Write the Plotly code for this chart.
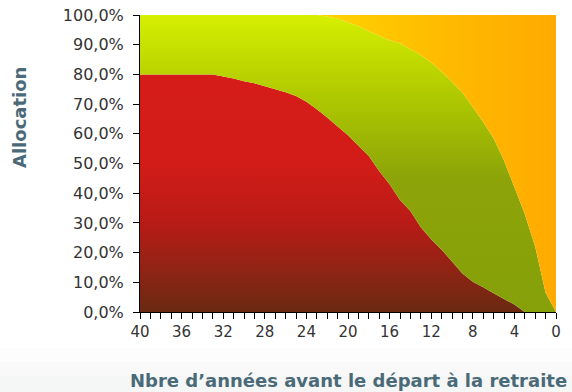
import plotly.graph_objects as go

years = list(range(40, -1, -1))
# bottom series (red)
red = [80, 80, 80, 80, 80, 80, 80, 80, 79.3, 78.6, 77.7, 77, 76, 75, 74, 72.7, 70.8, 68.3,
       65.5, 62.5, 59.5, 56, 52.5, 47.5, 43, 37.7, 34, 28.5, 24.5, 21, 17, 13, 10.2,
       8.3, 6.3, 4.4, 2.5, 0, 0, 0, 0]
# cumulative top of the middle series (green)
green_top = [100] * 18 + [99.5, 98.8, 97.5, 96.3, 94.5, 93, 91.5, 90.5, 88.5, 86.5, 84,
                          81, 77.5, 73.8, 69, 64, 58.5, 51, 42, 33, 22, 6.5, 0]
green = [g - r for g, r in zip(green_top, red)]
orange = [100 - g for g in green_top]

y_ticks = list(range(0, 101, 10))
y_labels = [f"{v},0%" for v in y_ticks]
x_ticks = list(range(0, 41, 4))

fig = go.Figure()
fig.add_trace(go.Scatter(
    x=years, y=red, stackgroup="a", mode="none", line=dict(width=0),
    fillgradient=dict(type="vertical", start=0, stop=100,
                      colorscale=[[0, "#6a2a12"], [0.12, "#8a2514"], [0.3, "#b81b16"],
                                  [0.5, "#d21c18"], [1, "#d81c18"]]),
    hoverinfo="skip"))
fig.add_trace(go.Scatter(
    x=years, y=green, stackgroup="a", mode="none", line=dict(width=0),
    fillgradient=dict(type="vertical", start=0, stop=100,
                      colorscale=[[0, "#86a00a"], [0.45, "#8ca408"], [0.75, "#b2cc00"],
                                  [1, "#d6ef00"]]),
    hoverinfo="skip"))
fig.add_trace(go.Scatter(
    x=years, y=orange, stackgroup="a", mode="none", line=dict(width=0),
    fillgradient=dict(type="horizontal", start=0, stop=23,
                      colorscale=[[0, "#ffaa00"], [0.5, "#ffbc00"], [1, "#ffd400"]]),
    hoverinfo="skip"))

# faint bottom background band (pixel rows converted to paper units)
def py(p):
    return (312 - p) / 297

for (a, b, c) in [(348, 362, "#fdfdfd"), (362, 376, "#f9f9f9"), (376, 393, "#f5f6f6")]:
    fig.add_shape(type="rect", xref="paper", yref="paper", layer="below",
                  x0=-0.5, x1=1.1, y0=py(b), y1=py(a),
                  line=dict(width=0), fillcolor=c)

title_font = dict(family="DejaVu Sans", size=18, color="#4b6a78", weight="bold")
fig.add_annotation(text="Nbre d’années avant le départ à la retraite", xref="paper", yref="paper",
                   x=0.5, y=py(380), xanchor="center", yanchor="middle",
                   showarrow=False, font=title_font)
fig.add_annotation(text="Allocation", xref="paper", yref="paper", textangle=-90,
                   x=(20 - 140) / 416, y=py(118), xanchor="center", yanchor="middle",
                   showarrow=False, font=title_font)

fig.update_layout(
    width=572, height=392,
    margin=dict(l=140, r=16, t=15, b=80),
    plot_bgcolor="white", paper_bgcolor="white",
    showlegend=False, hovermode=False,
    font=dict(family="DejaVu Sans", size=15, color="#333333"),
    xaxis=dict(range=[40, 0], tickvals=x_ticks, ticks="outside", ticklen=6,
               tickcolor="black", showline=True, linecolor="black", linewidth=1,
               showgrid=False, zeroline=False, automargin=False,
               tickfont=dict(size=15),
               minor=dict(dtick=1, ticks="outside", ticklen=6, tickcolor="black", showgrid=False)),
    yaxis=dict(range=[0, 100], tickvals=y_ticks, ticktext=y_labels,
               ticks="outside", ticklen=6, tickcolor="black",
               showline=True, linecolor="black", linewidth=1,
               showgrid=False, zeroline=False, automargin=False,
               tickfont=dict(size=16), ticklabelstandoff=6),
)

fig.write_html("out.html")
